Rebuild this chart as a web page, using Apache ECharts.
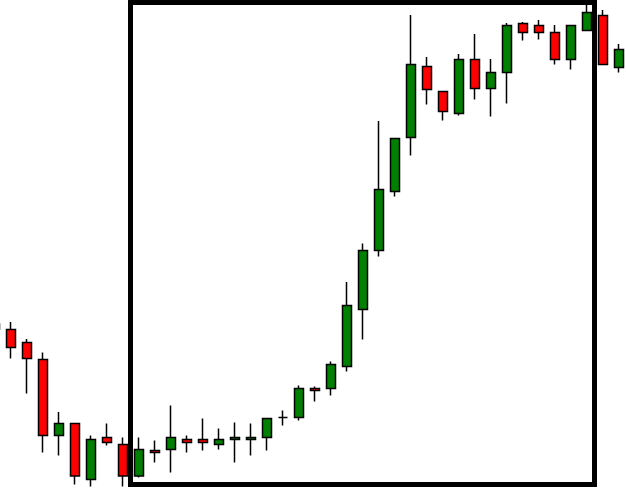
<!DOCTYPE html>
<html>
<head>
<meta charset="utf-8">
<script src="https://cdn.jsdelivr.net/npm/echarts@6/dist/echarts.min.js"></script>
<style>
  html, body { margin: 0; padding: 0; background: #fff; }
  #chart { width: 626px; height: 502px; }
</style>
</head>
<body>
<div id="chart"></div>
<script>
// 蜡烛数据 (open / close / low / high)
const bars = ["1","2","3","4","5","6","7","8","9","10","11","12","13","14","15","16","17","18","19","20",
              "21","22","23","24","25","26","27","28","29","30","31","32","33","34","35","36","37","38","39","40"];
const opens  = [178, 172.5, 159.5, 142.5, 66.5, 78.5, 22.5, 64.5, 57.5, 26, 51.5, 52.5, 62.5, 62.5, 57.5, 62.5, 62.5, 64.5, 84.5, 84.5,
                113.5, 113.5, 135.5, 192.5, 251.5, 310.5, 364.5, 435.5, 410.5, 388.5, 442.5, 413.5, 429.5, 478.5, 476.5, 469.5, 442.5, 471.5, 486.5, 434.5];
const closes = [173, 154.5, 143.5, 66.5, 78.5, 26, 62.5, 59.5, 26, 52.5, 49.5, 64.5, 59.5, 59.5, 62.5, 64.5, 64.5, 83.5, 84.5, 113.5,
                111.5, 137.5, 196.5, 251.5, 312.5, 363.5, 437.5, 412.5, 390.5, 442.5, 413.5, 429.5, 476.5, 469.5, 469.5, 442.5, 476.5, 489.5, 437.5, 452.5];
const lows   = [172, 143.5, 108.5, 49.5, 46.5, 17.5, 15.5, 56.5, 15.5, 24.5, 39.5, 29.5, 49.5, 51.5, 52.5, 39.5, 46.5, 51.5, 76.5, 81.5,
                100.5, 106.5, 130.5, 162.5, 245.5, 305.5, 346.5, 397.5, 381.5, 386.5, 402.5, 385.5, 398.5, 461.5, 462.5, 437.5, 432.5, 471.5, 437.5, 429.5];
const highs  = [179, 180, 163, 149.5, 90, 78.5, 66.5, 78.5, 64.5, 64.5, 61.5, 96.5, 66.5, 83.5, 73.5, 79.5, 78.5, 83.5, 91.5, 116.5,
                115.5, 140.5, 220, 258.5, 381, 363.5, 487, 445, 410.5, 448, 468, 443, 479, 480, 482, 477, 476.5, 498, 492, 458];

let candleData = bars.map((b, i) => [opens[i], closes[i], lows[i], highs[i]]);

let myChart = echarts.init(document.getElementById("chart"));

let option = {
   backgroundColor: "#fff",
   animation: false,
   grid: {
      left: -13,
      width: 640,
      top: 0,
      height: 502,
      outerBoundsMode: "none",
      containLabel: false,
   },
   xAxis: {
      type: "category",
      data: bars,
      boundaryGap: true,
      show: false,
   },
   yAxis: {
      type: "value",
      min: 0,
      max: 502,
      show: false,
      splitLine: { show: false },
   },
   // 方框
   graphic: [
      {
         type: "rect",
         z: 100,
         shape: { x: 130.5, y: 2.5, width: 464, height: 482 },
         style: { fill: "none", stroke: "#000", lineWidth: 5 },
      },
   ],
   series: [
      {
         type: "candlestick",
         barWidth: 9,
         itemStyle: {
            color: "#008000",
            color0: "#ff0000",
            borderColor: "#000",
            borderColor0: "#000",
            borderWidth: 1.5,
         },
         data: candleData,
      },
   ],
};

myChart.setOption(option);
</script>
</body>
</html>
